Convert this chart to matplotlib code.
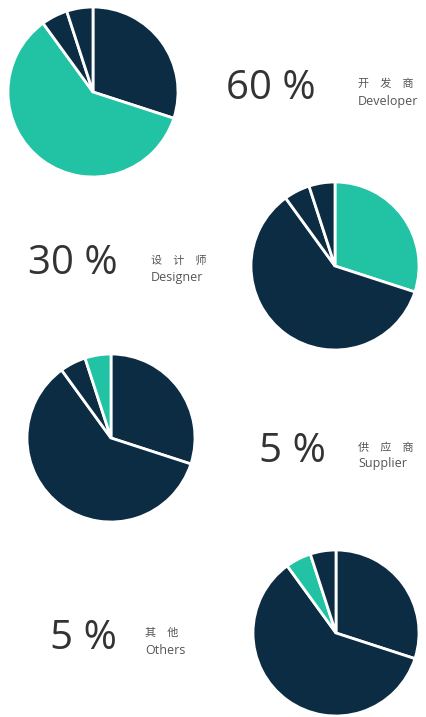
import matplotlib
matplotlib.use("Agg")
import matplotlib.pyplot as plt

# Data
categories_cn = ["设\u3000计\u3000师", "开\u3000发\u3000商", "供\u3000应\u3000商", "其\u3000他"]
categories_en = ["Designer", "Developer", "Supplier", "Others"]
shares = [30, 60, 5, 5]
pct_labels = ["30 %", "60 %", "5 %", "5 %"]

# Panels in display order: which slice is highlighted, and which label is shown
panel_highlight = [1, 0, 3, 2]
panel_label = [1, 0, 2, 3]

NAVY = "#0c2c43"
TEAL = "#22c3a5"
TEXT = "#333333"
SUB = "#555555"

W, H = 427, 717
fig = plt.figure(figsize=(W / 100, H / 100), dpi=100)
fig.patch.set_facecolor("white")

# layout (pixels): pie centre, radius, big-text left/centre-y, sub-text left
pies = [(93, 92, 85), (335, 266, 84), (111, 438, 84), (336, 633, 83)]
big_pos = [(226, 89), (28, 264), (259, 452), (50, 639)]
sub_pos = [(358, 84, 102), (151, 261, 278), (358, 448, 464), (145, 633, 651)]

for i in range(4):
    cx, cy, r = pies[i]
    ax = fig.add_axes([(cx - r) / W, 1 - (cy + r) / H, 2 * r / W, 2 * r / H])
    colors = [TEAL if k == panel_highlight[i] else NAVY for k in range(len(shares))]
    ax.pie(shares, colors=colors, startangle=90, counterclock=False,
           wedgeprops=dict(edgecolor="white", linewidth=2))
    ax.set_xlim(-1.0, 1.0)
    ax.set_ylim(-1.0, 1.0)
    ax.set_aspect("equal")
    ax.axis("off")

    li = panel_label[i]
    bx, by = big_pos[i]
    fig.text(bx / W, 1 - by / H, pct_labels[li], fontsize=29, color=TEXT,
             family=["Open Sans", "DejaVu Sans"], ha="left", va="center")
    sx, scy, sey = sub_pos[i]
    fig.text(sx / W, 1 - scy / H, categories_cn[li], fontsize=8, color=SUB,
             family=["Noto Sans CJK SC", "DejaVu Sans"], ha="left", va="center")
    fig.text(sx / W, 1 - sey / H, categories_en[li], fontsize=9, color=SUB,
             family=["Open Sans", "DejaVu Sans"], ha="left", va="center")

fig.savefig("out.png", dpi=100, facecolor="white")
